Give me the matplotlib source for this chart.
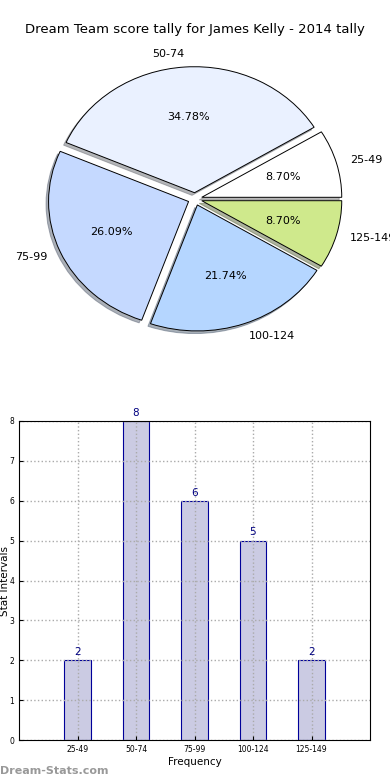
import numpy as np
import matplotlib
matplotlib.use('Agg')
import matplotlib.pyplot as plt

# data
categories = ['25-49', '50-74', '75-99', '100-124', '125-149']
counts = [2, 8, 6, 5, 2]
pie_colors = ['#ffffff', '#eaf1ff', '#c5d9ff', '#b5d6ff', '#cfe98c']
title = 'Dream Team score tally for James Kelly - 2014 tally'

fig = plt.figure(figsize=(3.9, 7.8), dpi=100)

# pie on top
ax1 = fig.add_axes([20/390., 1 - 356.5/780., 350/390., 315/780.])
wedges, texts, autotexts = ax1.pie(counts, labels=categories, colors=pie_colors,
                                   explode=[0.05]*len(counts), autopct='%1.2f%%',
                                   shadow={'ox': -0.013, 'oy': -0.015, 'shade': 0.55},
                                   startangle=0,
                                   wedgeprops={'edgecolor': 'black', 'linewidth': 0.7},
                                   textprops={'fontsize': 8})
ax1.set_aspect('auto')
ax1.set_xlim(-1.25, 1.25)
ax1.set_ylim(-1.25, 1.25)
fig.text(0.5, 1 - 30/780., title, ha='center', va='center', fontsize=9.5)

# bars below
ax2 = fig.add_axes([19/390., 40/780., 351/390., 319/780.])
x = np.arange(len(categories))
bars = ax2.bar(x, counts, width=0.45, color='#cbcbe3', edgecolor='#000099', linewidth=0.8)
for xi, c in zip(x, counts):
    ax2.text(xi, c + 0.08, str(c), ha='center', va='bottom', fontsize=7.5, color='#000080')
ax2.set_xlim(-1, 5)
ax2.set_ylim(0, 8)
ax2.set_xticks(x)
ax2.set_xticklabels(categories)
ax2.set_yticks(range(9))
ax2.tick_params(labelsize=5.5, direction='in', length=3)
ax2.grid(True, linestyle=':', color='#aaaaaa', linewidth=1.0)
ax2.set_xlabel('Frequency', fontsize=7.5, labelpad=2)
ax2.set_ylabel('Stat Intervals', fontsize=7.5, labelpad=0)
ax2.yaxis.set_label_coords(-0.027, 0.5)

fig.text(0.0, 1 - 771/780., 'Dream-Stats.com', ha='left', va='center', fontsize=8,
         color='#999999', fontweight='bold')

fig.savefig('out.png', dpi=100)
